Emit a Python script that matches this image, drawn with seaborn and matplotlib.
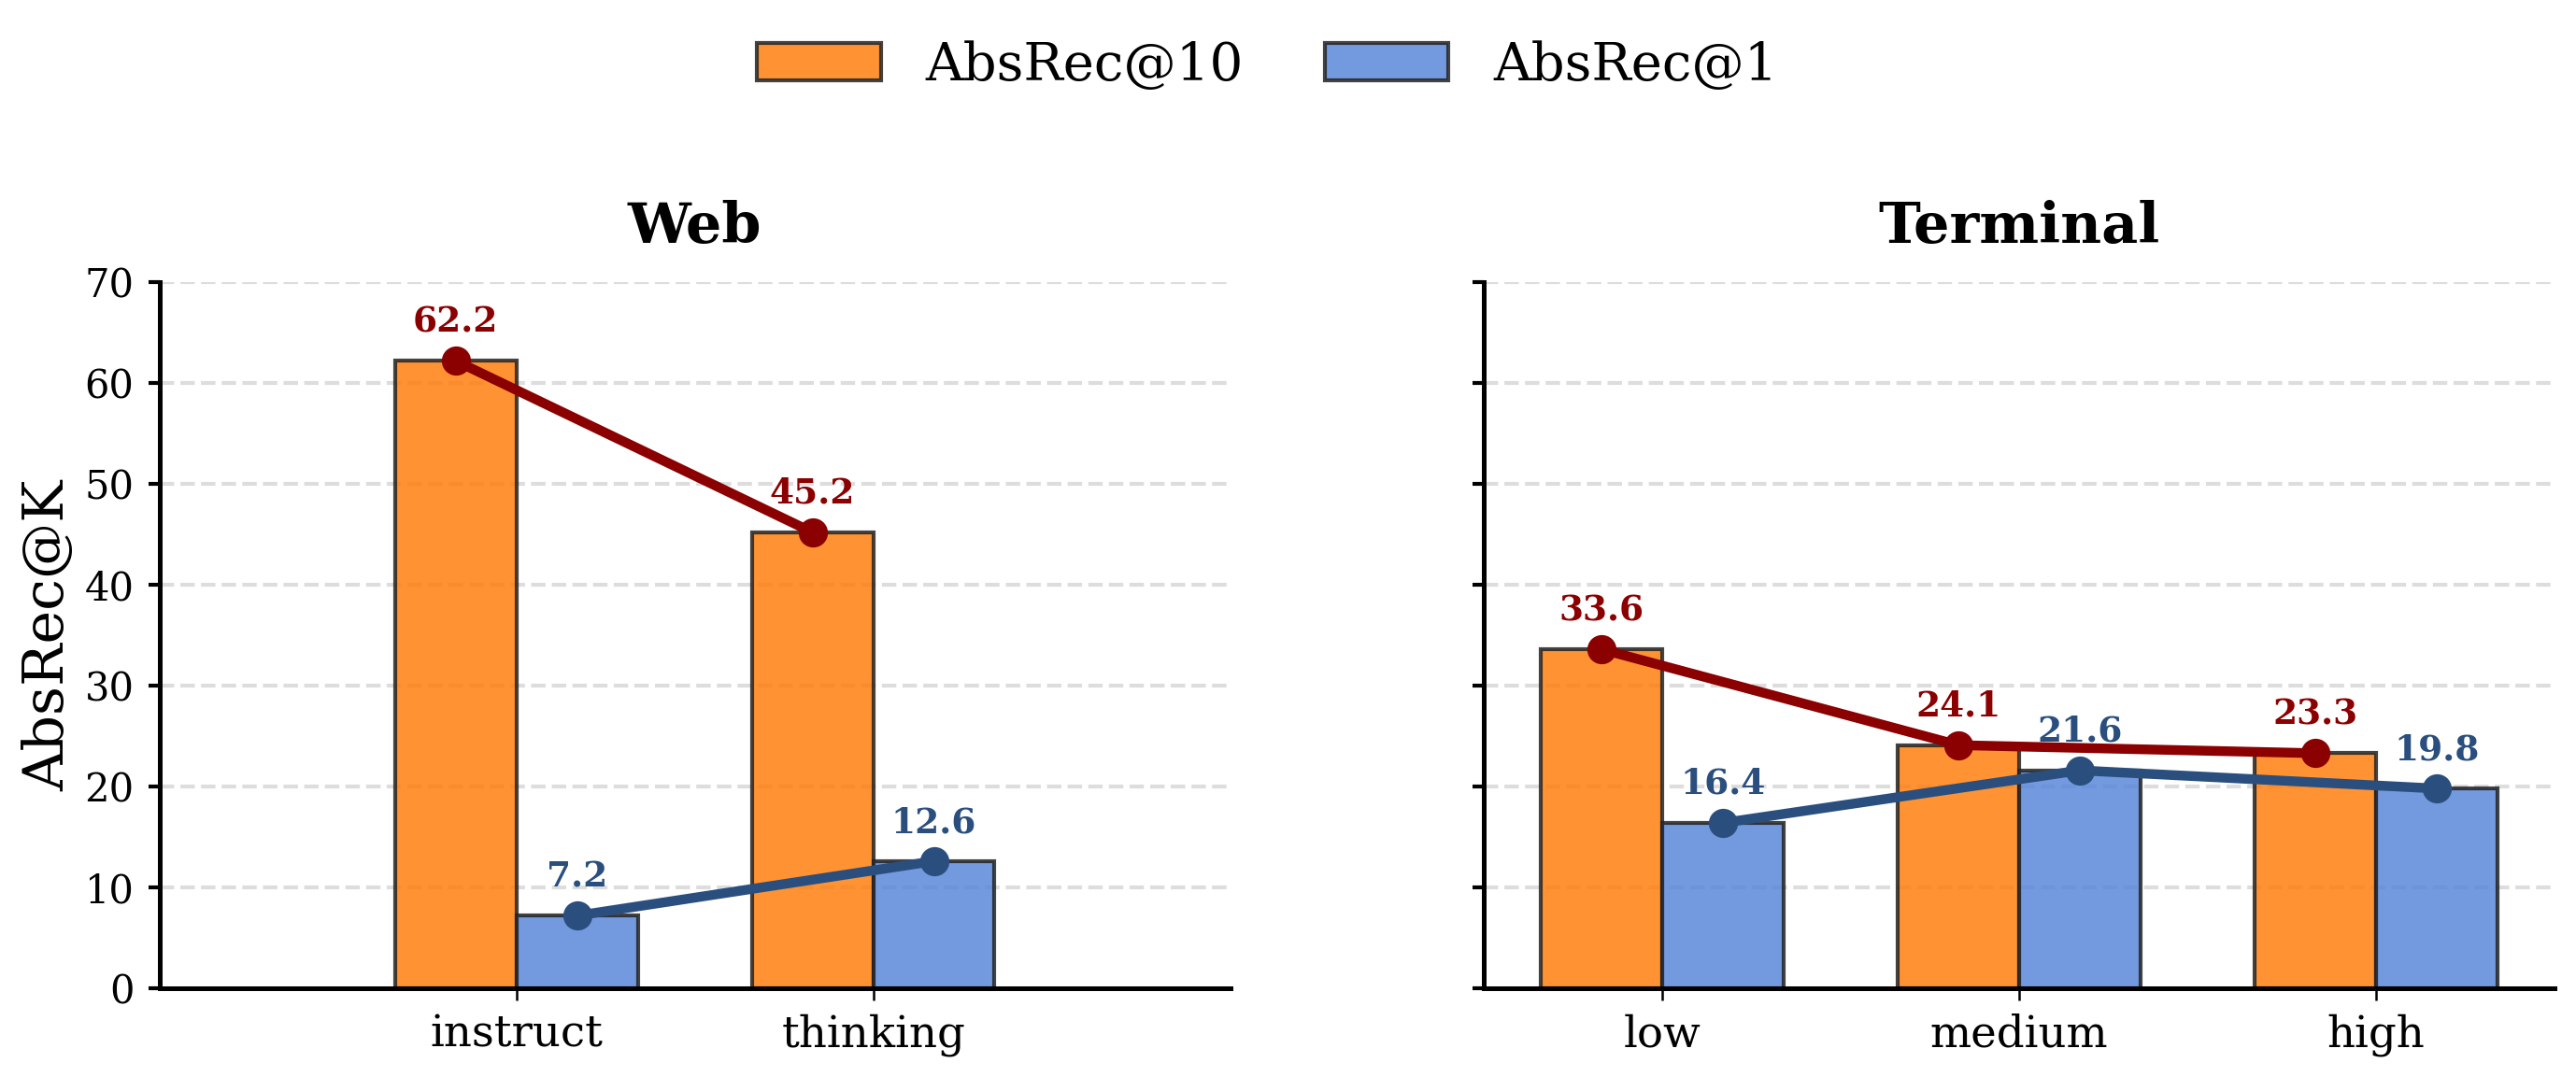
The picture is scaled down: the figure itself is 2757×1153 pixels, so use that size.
import matplotlib
matplotlib.use("Agg")
import matplotlib.pyplot as plt
import numpy as np
import pandas as pd
import seaborn as sns

# values
metrics = ["AbsRec@10", "AbsRec@1"]
web_settings = ["instruct", "thinking"]
web_rec10 = [62.2, 45.2]
web_rec1 = [7.2, 12.6]
term_settings = ["low", "medium", "high"]
term_rec10 = [33.6, 24.1, 23.3]
term_rec1 = [16.4, 21.6, 19.8]
y_ticks = [0, 10, 20, 30, 40, 50, 60, 70]

sns.set_style("ticks", {"axes.edgecolor": "black", "text.color": "black",
                        "xtick.color": "black", "ytick.color": "black",
                        "axes.labelcolor": "black"})
plt.rcParams["font.family"] = ["DejaVu Serif"]

bar_colors = {"AbsRec@10": "#FF7F0E", "AbsRec@1": "#5A87DA"}
line_colors = {"AbsRec@10": "#8B0000", "AbsRec@1": "#2A4F7E"}
bar_width = 0.68

fig, axes = plt.subplots(1, 2, figsize=(2757 / 300, 1153 / 300), dpi=300, sharey=True)
fig.subplots_adjust(left=0.0619, right=0.9917, bottom=0.0824, top=0.738, wspace=0.237)

panels = [
    ("Web", web_settings, web_rec10, web_rec1, (-1, 2)),
    ("Terminal", term_settings, term_rec10, term_rec1, (-0.5, 2.5)),
]

for ax, (title, settings, rec10, rec1, xlim) in zip(axes, panels):
    df = pd.DataFrame({
        "setting": settings * 2,
        "metric": [metrics[0]] * len(settings) + [metrics[1]] * len(settings),
        "value": list(rec10) + list(rec1),
    })
    sns.barplot(data=df, x="setting", y="value", hue="metric", hue_order=metrics,
                palette=bar_colors, saturation=1, alpha=0.85, edgecolor="#222222",
                linewidth=1.0, width=bar_width, ax=ax, zorder=2)

    # lines through the bar centres
    x = np.arange(len(settings))
    half = bar_width / 4
    for offset, metric, vals in [(-half, metrics[0], rec10), (half, metrics[1], rec1)]:
        ax.plot(x + offset, vals, marker="o", color=line_colors[metric],
                linewidth=2.5, markersize=6.5, zorder=4)
        for xi, v in zip(x + offset, vals):
            ax.annotate(f"{v:.1f}", (xi, v), xytext=(0, 5.5), textcoords="offset points",
                        ha="center", va="bottom", fontsize=9, fontweight="bold",
                        color=line_colors[metric])

    ax.set_xlim(*xlim)
    ax.set_ylim(0, 70)
    ax.set_yticks(y_ticks)
    ax.set_title(title, fontsize=14.5, fontweight="bold", pad=10)
    ax.set_xlabel("")
    ax.set_ylabel("")
    ax.yaxis.grid(True, linestyle="--", color="#DDDDDD", linewidth=1.0)
    ax.set_axisbelow(True)
    ax.tick_params(axis="y", length=3, width=1.0, labelsize=10)
    ax.tick_params(axis="x", length=3, width=0.6, labelsize=11.2)
    sns.despine(ax=ax)
    for side in ["left", "bottom"]:
        ax.spines[side].set_linewidth(1.2)

axes[0].set_ylabel("AbsRec@K", fontsize=14.5, labelpad=2.3)

handles, labels = axes[0].get_legend_handles_labels()
for ax in axes:
    if ax.get_legend() is not None:
        ax.get_legend().remove()
fig.legend(handles, labels, loc="center", bbox_to_anchor=(0.492, 0.939), ncol=2,
           frameon=False, fontsize=13.5, handlelength=2.35, handleheight=0.7,
           columnspacing=1.55, handletextpad=0.85)

fig.savefig("out.png", dpi=300)
